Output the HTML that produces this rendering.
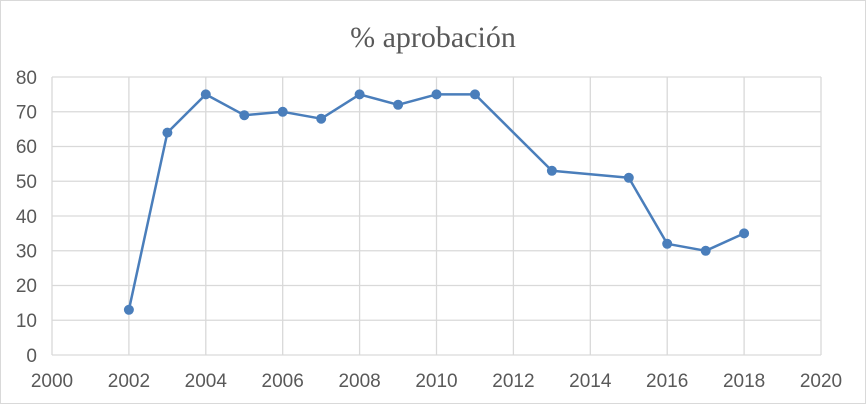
<!DOCTYPE html>
<html><head><style>body{margin:0}svg{display:block}</style></head><body>
<svg width="866" height="404" xmlns="http://www.w3.org/2000/svg" font-family="Liberation Sans, sans-serif">
<rect x="0.5" y="0.5" width="865" height="403" fill="#fff" stroke="#d9d9d9"/>
<text x="433" y="47" text-anchor="middle" font-family="Liberation Serif, serif" font-size="30" fill="#595959">% aprobación</text>
<g stroke="#d9d9d9" stroke-width="1.3">
<line x1="52" y1="77" x2="821" y2="77"/><line x1="52" y1="111.75" x2="821" y2="111.75"/><line x1="52" y1="146.5" x2="821" y2="146.5"/><line x1="52" y1="181.25" x2="821" y2="181.25"/><line x1="52" y1="216" x2="821" y2="216"/><line x1="52" y1="250.75" x2="821" y2="250.75"/><line x1="52" y1="285.5" x2="821" y2="285.5"/><line x1="52" y1="320.25" x2="821" y2="320.25"/><line x1="52" y1="355" x2="821" y2="355"/>
<line x1="52" y1="77" x2="52" y2="355"/><line x1="128.9" y1="77" x2="128.9" y2="355"/><line x1="205.8" y1="77" x2="205.8" y2="355"/><line x1="282.7" y1="77" x2="282.7" y2="355"/><line x1="359.6" y1="77" x2="359.6" y2="355"/><line x1="436.5" y1="77" x2="436.5" y2="355"/><line x1="513.4" y1="77" x2="513.4" y2="355"/><line x1="590.3" y1="77" x2="590.3" y2="355"/><line x1="667.2" y1="77" x2="667.2" y2="355"/><line x1="744.1" y1="77" x2="744.1" y2="355"/><line x1="821" y1="77" x2="821" y2="355"/>
</g>
<g font-size="19" fill="#595959" text-anchor="end">
<text x="37" y="84">80</text><text x="37" y="118.5">70</text><text x="37" y="153">60</text><text x="37" y="188">50</text><text x="37" y="223">40</text><text x="37" y="257.5">30</text><text x="37" y="292">20</text><text x="37" y="327">10</text><text x="37" y="362">0</text>
</g>
<g font-size="19" fill="#595959" text-anchor="middle">
<text x="52" y="387">2000</text><text x="128.9" y="387">2002</text><text x="205.8" y="387">2004</text><text x="282.7" y="387">2006</text><text x="359.6" y="387">2008</text><text x="436.5" y="387">2010</text><text x="513.4" y="387">2012</text><text x="590.3" y="387">2014</text><text x="667.2" y="387">2016</text><text x="744.1" y="387">2018</text><text x="821" y="387">2020</text>
</g>
<polyline fill="none" stroke="#4a7ebb" stroke-width="2.5" stroke-linejoin="round" points="128.9,309.8 167.4,132.6 205.8,94.4 244.3,115.2 282.7,111.8 321.2,118.7 359.6,94.4 398.1,104.8 436.5,94.4 475,94.4 551.9,170.8 628.8,177.8 667.2,243.8 705.7,250.8 744.1,233.4"/>
<g fill="#4a7ebb">
<circle cx="128.9" cy="309.8" r="5"/><circle cx="167.4" cy="132.6" r="5"/><circle cx="205.8" cy="94.4" r="5"/><circle cx="244.3" cy="115.2" r="5"/><circle cx="282.7" cy="111.8" r="5"/><circle cx="321.2" cy="118.7" r="5"/><circle cx="359.6" cy="94.4" r="5"/><circle cx="398.1" cy="104.8" r="5"/><circle cx="436.5" cy="94.4" r="5"/><circle cx="475" cy="94.4" r="5"/><circle cx="551.9" cy="170.8" r="5"/><circle cx="628.8" cy="177.8" r="5"/><circle cx="667.2" cy="243.8" r="5"/><circle cx="705.7" cy="250.8" r="5"/><circle cx="744.1" cy="233.4" r="5"/>
</g>
</svg>
</body></html>
